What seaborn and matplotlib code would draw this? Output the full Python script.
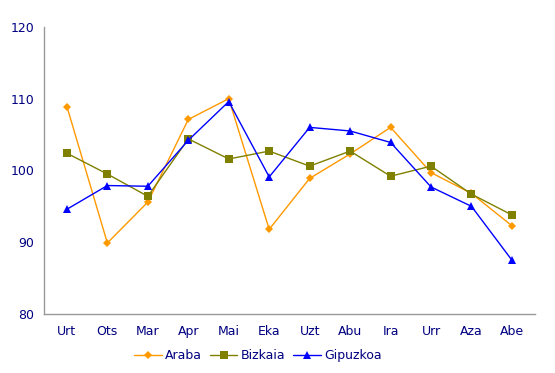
import pandas as pd
import matplotlib
matplotlib.use("Agg")
import matplotlib.pyplot as plt
import seaborn as sns

months = ["Urt", "Ots", "Mar", "Apr", "Mai", "Eka", "Uzt", "Abu", "Ira", "Urr", "Aza", "Abe"]
araba = [108.9, 89.9, 95.6, 107.1, 110.0, 91.8, 98.9, 102.3, 106.0, 99.7, 96.8, 92.3]
bizkaia = [102.4, 99.5, 96.4, 104.4, 101.6, 102.7, 100.6, 102.7, 99.2, 100.6, 96.7, 93.8]
gipuzkoa = [94.6, 97.9, 97.8, 104.2, 109.6, 99.1, 106.0, 105.5, 103.9, 97.7, 95.0, 87.5]

series = {"Araba": araba, "Bizkaia": bizkaia, "Gipuzkoa": gipuzkoa}
colors = {"Araba": "#FF9900", "Bizkaia": "#808000", "Gipuzkoa": "#0000FF"}
markers = {"Araba": "D", "Bizkaia": "s", "Gipuzkoa": "^"}
sizes = {"Araba": 4.5, "Bizkaia": 5.5, "Gipuzkoa": 6}

rows = []
for name, vals in series.items():
    for i, v in enumerate(vals):
        rows.append({"pos": i, "month": months[i], "value": v, "region": name})
df = pd.DataFrame(rows)

sns.set_style("white")
plt.rcParams['font.family'] = ['DejaVu Sans']
text_col = "#000080"

fig = plt.figure(figsize=(5.55, 3.73), dpi=100)
ax = fig.add_axes([0.079, 0.158, 0.885, 0.77])

for name in series:
    sub = df[df["region"] == name]
    sns.lineplot(data=sub, x="pos", y="value", ax=ax, color=colors[name],
                 marker=markers[name], markersize=sizes[name], markeredgewidth=0,
                 linewidth=1, label=name)

ax.set_xlim(-0.57, 11.57)
ax.set_ylim(80, 120)
ax.set_yticks([80, 90, 100, 110, 120])
ax.set_xticks(range(len(months)))
ax.set_xticklabels(months)
ax.set_xlabel("")
ax.set_ylabel("")
ax.tick_params(axis="y", length=4, width=1, color="#999999", direction="out",
               labelsize=9, labelcolor=text_col, pad=3)
ax.tick_params(axis="x", length=0, labelsize=9, labelcolor=text_col, pad=8)
for side in ["top", "right"]:
    ax.spines[side].set_visible(False)
for side in ["left", "bottom"]:
    ax.spines[side].set_color("#999999")
    ax.spines[side].set_linewidth(1)

handles, labels = ax.get_legend_handles_labels()
ax.get_legend().remove()
leg = fig.legend(handles, labels, loc="center", bbox_to_anchor=(0.465, 0.046), ncol=3,
                 frameon=False, fontsize=9, handlelength=2.2, handletextpad=0.3,
                 columnspacing=0.6)
for t in leg.get_texts():
    t.set_color(text_col)

fig.savefig("out.png", dpi=100)
